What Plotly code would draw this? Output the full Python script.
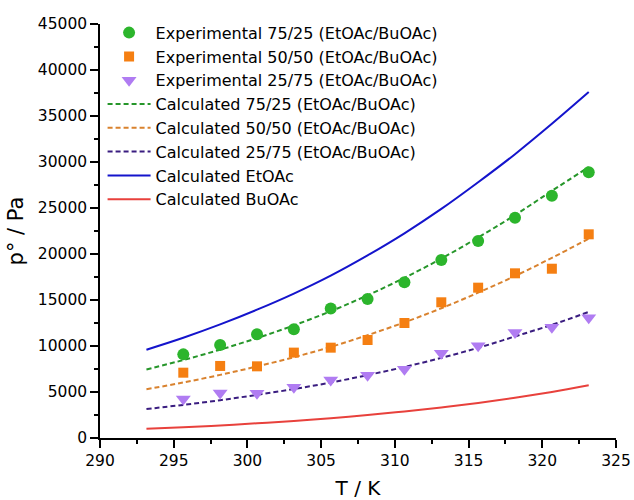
import plotly.graph_objects as go

# Experimental data
T_exp = [295.65, 298.15, 300.65, 303.15, 305.65, 308.15, 310.65, 313.15, 315.65, 318.15, 320.65, 323.15]
exp_75_25 = [9090, 10110, 11270, 11820, 14080, 15110, 16930, 19350, 21410, 23950, 26340, 28880]
exp_50_50 = [7100, 7830, 7790, 9280, 9820, 10650, 12500, 14750, 16340, 17900, 18400, 22140]
exp_25_75 = [4240, 4890, 4860, 5510, 6300, 6810, 7460, 9200, 10030, 11480, 12030, 13080]

# Calculated curves
T_calc = [293.15, 295.65, 298.15, 300.65, 303.15, 305.65, 308.15, 310.65, 313.15, 315.65, 318.15, 320.65, 323.15]
calc_75_25 = [7450, 8470, 9600, 10860, 12240, 13780, 15510, 17410, 19500, 21800, 24230, 26860, 29450]
calc_50_50 = [5300, 6030, 6860, 7780, 8780, 9900, 11180, 12570, 14100, 15800, 17610, 19580, 21660]
calc_25_75 = [3150, 3600, 4110, 4690, 5320, 6030, 6840, 7720, 8710, 9800, 11040, 12300, 13700]
calc_EtOAc = [9600, 10900, 12350, 13950, 15700, 17650, 19850, 22250, 24900, 27800, 30850, 34150, 37600]
calc_BuOAc = [1000, 1170, 1370, 1600, 1860, 2160, 2500, 2880, 3310, 3800, 4370, 5010, 5730]

names = [
    "Experimental 75/25 (EtOAc/BuOAc)",
    "Experimental 50/50 (EtOAc/BuOAc)",
    "Experimental 25/75 (EtOAc/BuOAc)",
    "Calculated 75/25 (EtOAc/BuOAc)",
    "Calculated 50/50 (EtOAc/BuOAc)",
    "Calculated 25/75 (EtOAc/BuOAc)",
    "Calculated EtOAc",
    "Calculated BuOAc",
]

FONT = "DejaVu Sans"
c_g_mk, c_o_mk, c_p_mk = "#2cb52c", "#f57f12", "#b07cf2"
c_g_ln, c_o_ln, c_p_ln = "#26962a", "#d9822e", "#3a1d80"
c_blue, c_red = "#1414cc", "#e8413c"
DASH = "5px,3px"

fig = go.Figure()

fig.add_trace(go.Scatter(x=T_calc, y=calc_EtOAc, mode="lines", name=names[6], line_shape="spline",
                         line=dict(color=c_blue, width=2), showlegend=False))
fig.add_trace(go.Scatter(x=T_calc, y=calc_BuOAc, mode="lines", name=names[7], line_shape="spline",
                         line=dict(color=c_red, width=2), showlegend=False))
fig.add_trace(go.Scatter(x=T_calc, y=calc_75_25, mode="lines", name=names[3], line_shape="spline",
                         line=dict(color=c_g_ln, width=2, dash=DASH), showlegend=False))
fig.add_trace(go.Scatter(x=T_calc, y=calc_50_50, mode="lines", name=names[4], line_shape="spline",
                         line=dict(color=c_o_ln, width=2, dash=DASH), showlegend=False))
fig.add_trace(go.Scatter(x=T_calc, y=calc_25_75, mode="lines", name=names[5], line_shape="spline",
                         line=dict(color=c_p_ln, width=2, dash=DASH), showlegend=False))

fig.add_trace(go.Scatter(x=T_exp, y=exp_75_25, mode="markers", name=names[0],
                         marker=dict(symbol="circle", size=12, color=c_g_mk), showlegend=False))
fig.add_trace(go.Scatter(x=T_exp, y=exp_50_50, mode="markers", name=names[1],
                         marker=dict(symbol="square", size=10, color=c_o_mk), showlegend=False))
fig.add_trace(go.Scatter(x=T_exp, y=exp_25_75, mode="markers", name=names[2],
                         marker=dict(symbol="triangle-down", size=13, color=c_p_mk), showlegend=False))

# Legend entries in reference order
legend_specs = [
    (names[0], "markers", dict(symbol="circle", size=12, color=c_g_mk), None),
    (names[1], "markers", dict(symbol="square", size=10, color=c_o_mk), None),
    (names[2], "markers", dict(symbol="triangle-down", size=13, color=c_p_mk), None),
    (names[3], "lines", None, dict(color=c_g_ln, width=2, dash=DASH)),
    (names[4], "lines", None, dict(color=c_o_ln, width=2, dash=DASH)),
    (names[5], "lines", None, dict(color=c_p_ln, width=2, dash=DASH)),
    (names[6], "lines", None, dict(color=c_blue, width=2)),
    (names[7], "lines", None, dict(color=c_red, width=2)),
]
for nm, md, mk, ln in legend_specs:
    kw = dict(x=[None], y=[None], mode=md, name=nm, showlegend=True)
    if mk:
        kw["marker"] = mk
    if ln:
        kw["line"] = ln
    fig.add_trace(go.Scatter(**kw))

axis_common = dict(
    showline=True, linecolor="black", linewidth=1.5, mirror=False,
    ticks="outside", ticklen=8, tickwidth=1.5, tickcolor="black",
    showgrid=False, zeroline=False, automargin=False,
    tickfont=dict(family=FONT, size=15.5, color="black"),
)

fig.update_xaxes(range=[290, 325], dtick=5, tick0=290,
                 minor=dict(dtick=2.5, ticklen=4, tickwidth=1.5, tickcolor="black", ticks="outside", showgrid=False),
                 title=dict(text="T / K", font=dict(family=FONT, size=20, color="black"), standoff=12),
                 **axis_common)
fig.update_yaxes(range=[0, 45000], dtick=5000, tick0=0, tickformat="d",
                 minor=dict(dtick=2500, ticklen=4, tickwidth=1.5, tickcolor="black", ticks="outside", showgrid=False),
                 title=dict(text="p° / Pa", font=dict(family=FONT, size=21, color="black"), standoff=8),
                 **axis_common)

fig.update_layout(
    width=634, height=500,
    margin=dict(l=100, r=18, t=24, b=62),
    paper_bgcolor="white", plot_bgcolor="white",
    legend=dict(x=0.005, y=1.02, xanchor="left", yanchor="top",
                bgcolor="rgba(0,0,0,0)", itemwidth=43,
                font=dict(family=FONT, size=16, color="black"),
                tracegroupgap=0),
    showlegend=True,
)

fig.write_html("out.html")
